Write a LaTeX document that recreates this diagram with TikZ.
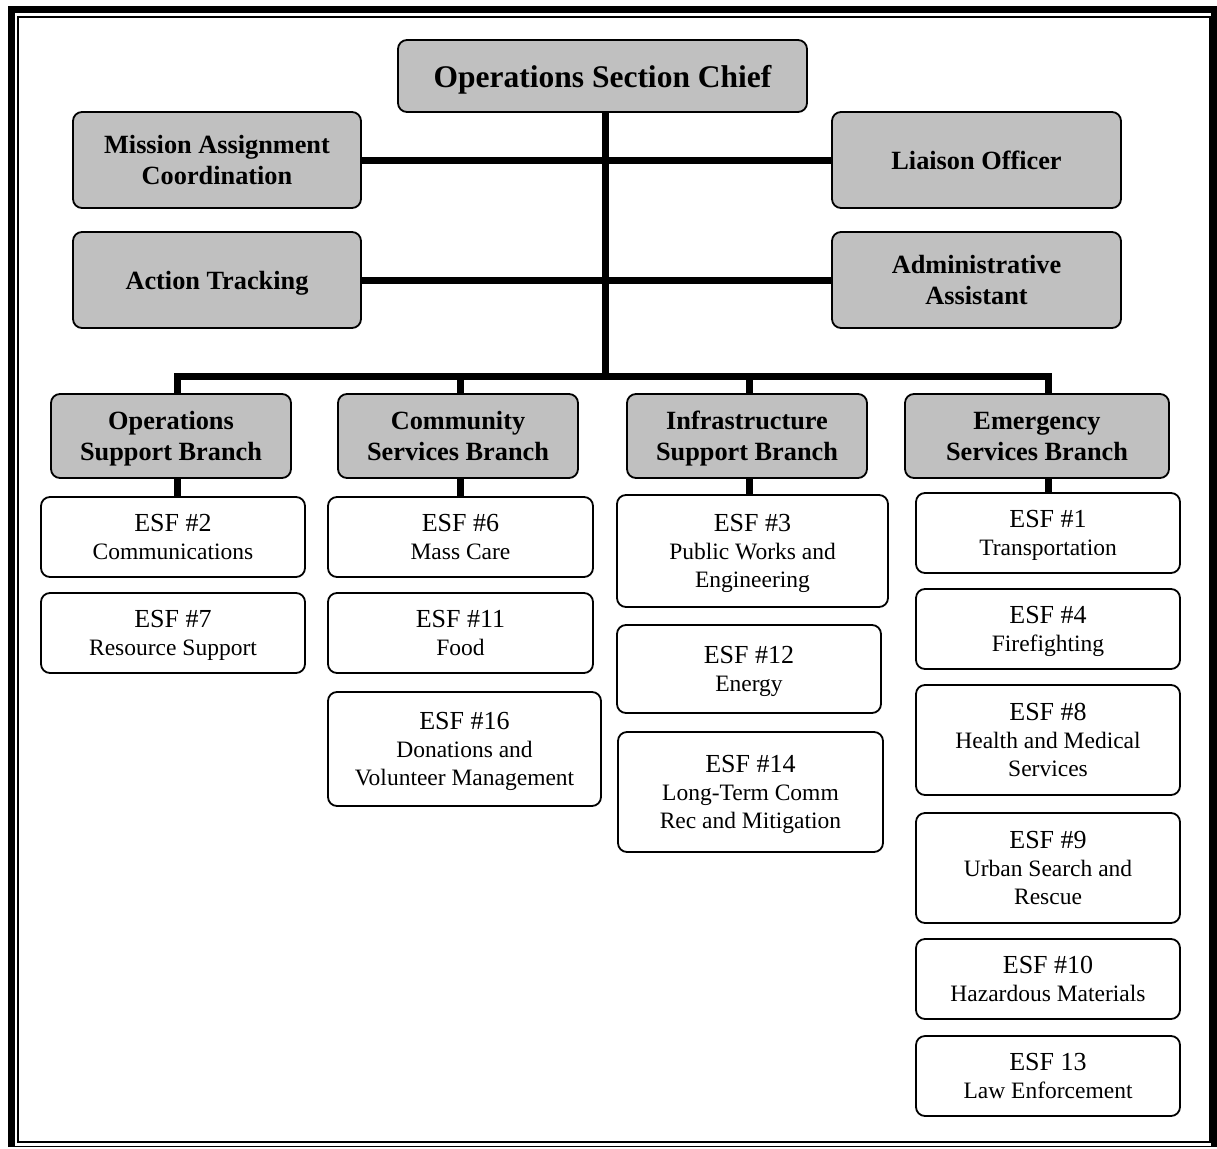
\documentclass[tikz,border=0pt]{standalone}
\usepackage{fontspec}
\setmainfont{Liberation Serif}
\definecolor{boxgray}{HTML}{C0C0C0}
\begin{document}
\begin{tikzpicture}[x=1pt,y=-1pt,
  boxbase/.style={draw=black, line width=1.8pt, rounded corners=9pt,
    align=center, inner sep=0pt, text depth=0pt},
  graybox/.style={boxbase, fill=boxgray,
    font=\bfseries\fontsize{26.3}{31}\selectfont},
  esfbox/.style={boxbase, fill=white,
    font=\fontsize{23.5}{28}\selectfont},
  wire/.style={line width=7pt, line join=miter},
]
\newcommand\esfhead[1]{{\fontsize{26}{28}\selectfont #1}}
\useasboundingbox (0,0) rectangle (1217,1148);

% page border: thick outer rule and thin inner rule
\draw[line width=7pt] (11.5,1147) -- (11.5,9.5) -- (1214.5,9.5) -- (1214.5,1147);
\draw[line width=1.5pt] (8,1146.5) -- (1217,1146.5);
\draw[line width=1.8pt] (18,17) rectangle (1210,1142);

% command staff
\node[graybox, minimum width=409, minimum height=72,
  font=\bfseries\fontsize{31.5}{36}\selectfont] (chief) at (602.5,76) {Operations Section Chief};
\node[graybox, minimum width=288, minimum height=96] (mac) at (217,160) {Mission Assignment\\Coordination};
\node[graybox, minimum width=289, minimum height=96] (liaison) at (976.5,160) {Liaison Officer};
\node[graybox, minimum width=288, minimum height=96] (action) at (217,280) {Action Tracking};
\node[graybox, minimum width=289, minimum height=96] (admin) at (976.5,280) {Administrative\\Assistant};

% branches
\node[graybox, minimum width=240, minimum height=84] (osb) at (171,436) {Operations\\Support Branch};
\node[graybox, minimum width=240, minimum height=84] (csb) at (458,436) {Community\\Services Branch};
\node[graybox, minimum width=240, minimum height=84] (isb) at (747,436) {Infrastructure\\Support Branch};
\node[graybox, minimum width=264, minimum height=84] (esb) at (1037,436) {Emergency\\Services Branch};

% operations support
\node[esfbox, minimum width=264, minimum height=80] (e2) at (173,537) {\esfhead{ESF \#2}\\Communications};
\node[esfbox, minimum width=264, minimum height=80] (e7) at (173,633) {\esfhead{ESF \#7}\\Resource Support};

% community services
\node[esfbox, minimum width=265, minimum height=80] (e6) at (460.5,537) {\esfhead{ESF \#6}\\Mass Care};
\node[esfbox, minimum width=265, minimum height=80] (e11) at (460.5,633) {\esfhead{ESF \#11}\\Food};
\node[esfbox, minimum width=273, minimum height=114] (e16) at (464.5,749) {\esfhead{ESF \#16}\\Donations and\\Volunteer Management};

% infrastructure support
\node[esfbox, minimum width=271, minimum height=112] (e3) at (752.5,551) {\esfhead{ESF \#3}\\Public Works and\\Engineering};
\node[esfbox, minimum width=264, minimum height=88] (e12) at (749,669) {\esfhead{ESF \#12}\\Energy};
\node[esfbox, minimum width=265, minimum height=120] (e14) at (750.5,792) {\esfhead{ESF \#14}\\Long-Term Comm\\Rec and Mitigation};

% emergency services
\node[esfbox, minimum width=264, minimum height=80] (e1) at (1048,533) {\esfhead{ESF \#1}\\Transportation};
\node[esfbox, minimum width=264, minimum height=80] (e4) at (1048,629) {\esfhead{ESF \#4}\\Firefighting};
\node[esfbox, minimum width=264, minimum height=110] (e8) at (1048,740) {\esfhead{ESF \#8}\\Health and Medical\\Services};
\node[esfbox, minimum width=264, minimum height=110] (e9) at (1048,868) {\esfhead{ESF \#9}\\Urban Search and\\Rescue};
\node[esfbox, minimum width=264, minimum height=80] (e10) at (1048,979) {\esfhead{ESF \#10}\\Hazardous Materials};
\node[esfbox, minimum width=264, minimum height=80] (e13) at (1048,1076) {\esfhead{ESF 13}\\Law Enforcement};

% connectors
\coordinate (bt) at (605,376);
\coordinate (b1) at (177,376);
\coordinate (b2) at (460,376);
\coordinate (b3) at (749,376);
\coordinate (b4) at (1048,376);

\draw[wire] (chief.south -| bt) -- (bt);
\draw[wire] (mac.east) -- (liaison.west);
\draw[wire] (action.east) -- (admin.west);
\draw[wire] (b1 |- osb.north) -- (b1) -- (b4) -- (b4 |- esb.north);
\draw[wire] (b2) -- (b2 |- csb.north);
\draw[wire] (b3) -- (b3 |- isb.north);

\draw[wire] (b1 |- osb.south) -- (b1 |- e2.north);
\draw[wire] (b2 |- csb.south) -- (b2 |- e6.north);
\draw[wire] (b3 |- isb.south) -- (b3 |- e3.north);
\draw[wire] (b4 |- esb.south) -- (b4 |- e1.north);
\end{tikzpicture}
\end{document}
